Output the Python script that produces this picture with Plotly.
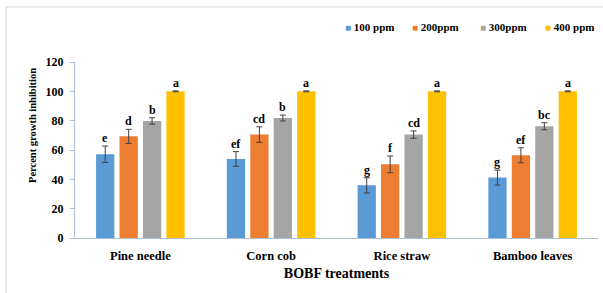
import plotly.graph_objects as go

categories = ["Pine needle", "Corn cob", "Rice straw", "Bamboo leaves"]
series_names = ["100 ppm", "200ppm", "300ppm", "400 ppm"]
colors = ["#5B9BD5", "#ED7D31", "#A5A5A5", "#FFC000"]

vals_100 = [57.1, 53.9, 35.9, 41.2]
vals_200 = [69.3, 70.5, 50.2, 56.4]
vals_300 = [79.8, 81.8, 70.5, 76.2]
vals_400 = [100, 100, 100, 100]

err_100 = [5.6, 5.0, 5.2, 5.1]
err_200 = [4.8, 5.3, 5.7, 5.1]
err_300 = [2.2, 2.0, 2.5, 2.4]
err_400 = [0.3, 0.3, 0.3, 0.3]

let_100 = ["e", "ef", "g", "g"]
let_200 = ["d", "cd", "f", "ef"]
let_300 = ["b", "b", "cd", "bc"]
let_400 = ["a", "a", "a", "a"]

values = [vals_100, vals_200, vals_300, vals_400]
errors = [err_100, err_200, err_300, err_400]
letters = [let_100, let_200, let_300, let_400]

W, H = 603, 293
ML, MR, MT, MB = 75, 5, 62, 55
BARGAP = 0.283
SERIF = "Liberation Serif, Times New Roman, serif"

fig = go.Figure()
for name, col, v, e in zip(series_names, colors, values, errors):
    fig.add_trace(go.Bar(
        x=categories, y=v, name=name, marker=dict(color=col, line=dict(width=0)),
        error_y=dict(type="data", array=e, visible=True, color="#404040",
                     thickness=1, width=3),
        showlegend=False,
    ))

# letter annotations above the error bars
plot_w = W - ML - MR
plot_h = H - MT - MB
slot_px = plot_w / len(categories) * (1 - BARGAP) / len(series_names)
annotations = []
for i, (v, e, lt) in enumerate(zip(values, errors, letters)):
    shift = (i - (len(series_names) - 1) / 2) * slot_px
    for c, yv, ev, t in zip(categories, v, e, lt):
        annotations.append(dict(
            x=c, y=yv + ev, xref="x", yref="y", text=t, showarrow=False,
            xshift=shift, yanchor="bottom", yshift=-1,
            font=dict(family=SERIF, size=12, color="#000", weight="bold"),
        ))

# legend (drawn as annotations to match the compact original layout)
legend_x = [0.5124, 0.6405, 0.7706, 0.8948]
for name, col, lx in zip(series_names, colors, legend_x):
    annotations.append(dict(
        x=lx, y=1.199, xref="paper", yref="paper", xanchor="left", yanchor="middle",
        showarrow=False,
        text=f'<span style="color:{col};font-size:10px">■</span> {name}',
        font=dict(family=SERIF, size=11, color="#000", weight="bold"),
    ))

# y-axis title (placed like the original, slightly above the axis middle)
annotations.append(dict(
    x=(32 - ML) / plot_w, y=(H - MB - 126) / plot_h, xref="paper", yref="paper",
    xanchor="center", yanchor="middle", textangle=-90, showarrow=False,
    text="Percent growth inhibition",
    font=dict(family=SERIF, size=10.5, color="#000", weight="bold"),
))

fig.update_layout(
    width=W, height=H,
    margin=dict(l=ML, r=MR, t=MT, b=MB),
    barmode="group", bargap=BARGAP, bargroupgap=0.22,
    paper_bgcolor="white", plot_bgcolor="white",
    annotations=annotations,
    shapes=[dict(type="rect", xref="paper", yref="paper",
                 x0=(6 - ML) / plot_w, x1=1.2,
                 y0=-0.6, y1=(H - MB - 7) / plot_h,
                 line=dict(color="#D9D9D9", width=1), layer="below")],
    xaxis=dict(
        showline=True, linecolor="#A9BFD6", linewidth=1, ticks="",
        ticklabelstandoff=6,
        tickfont=dict(family=SERIF, size=12.5, color="#000", weight="bold"),
        title=dict(text="BOBF treatments", standoff=6,
                   font=dict(family=SERIF, size=14, color="#000", weight="bold")),
        showgrid=False,
    ),
    yaxis=dict(
        range=[0, 120], tickvals=[0, 20, 40, 60, 80, 100, 120],
        showline=True, linecolor="#A9BFD6", linewidth=1,
        ticks="outside", ticklen=4, tickcolor="#A9BFD6",
        ticklabelstandoff=4,
        tickfont=dict(family=SERIF, size=12, color="#000", weight="bold"),
        showgrid=False, zeroline=False,
    ),
)

fig.write_html("out.html", config={"displayModeBar": False},
               post_script="document.body.style.margin='0px';")
